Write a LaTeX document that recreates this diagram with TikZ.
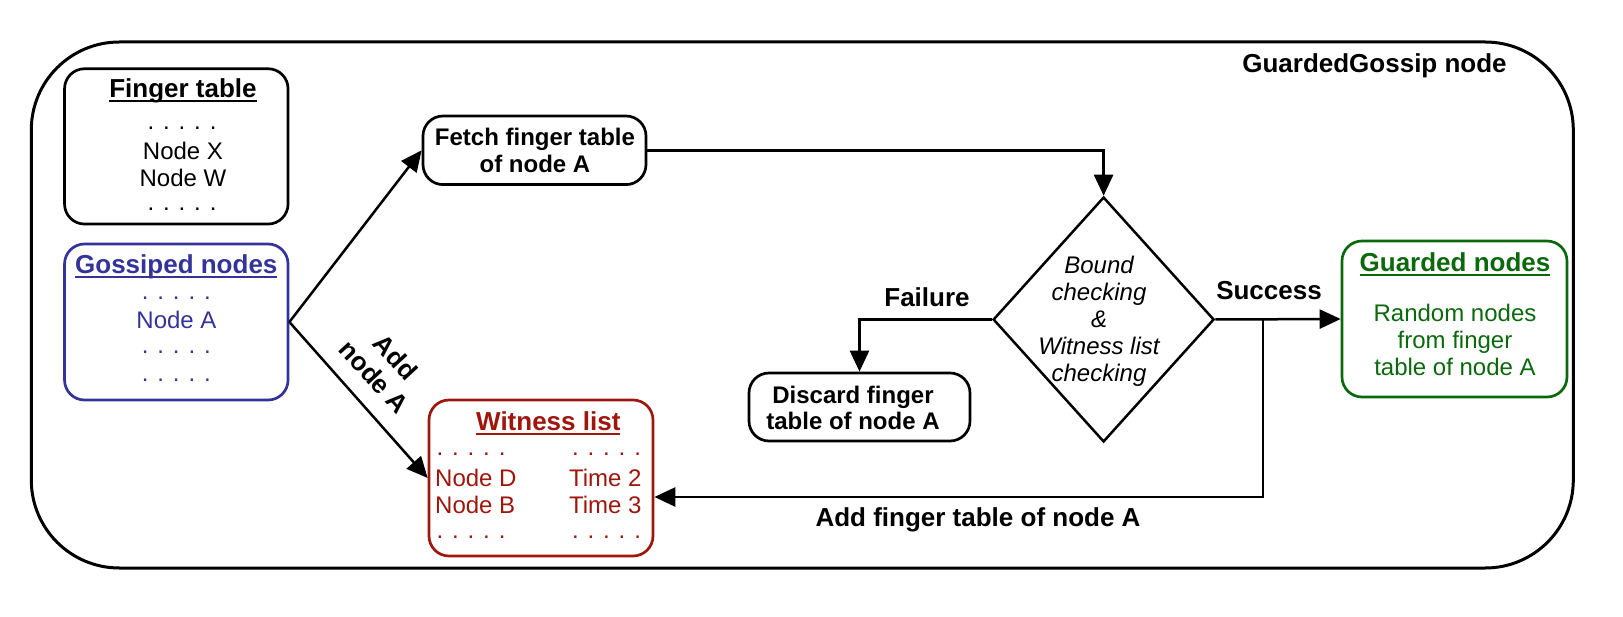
\documentclass[tikz,border=0pt]{standalone}
\usepackage{fontspec}
\setmainfont{Liberation Sans}
\usetikzlibrary{arrows.meta,shapes.geometric,calc}
\definecolor{gblue}{RGB}{51,51,153}
\definecolor{gred}{RGB}{158,22,12}
\definecolor{ggreen}{RGB}{12,104,12}
\newcommand\ulin[1]{\setbox0\hbox{#1}\rlap{\rule[-4pt]{\wd0}{2pt}}\box0}
\begin{document}
\begin{tikzpicture}[x=1pt,y=-1pt,
  fs/.style={font=\fontsize{24pt}{27pt}\selectfont},
  fb/.style={font=\fontsize{24pt}{27pt}\selectfont\bfseries},
  fl/.style={font=\fontsize{26pt}{29pt}\selectfont\bfseries},
  fi/.style={font=\fontsize{24pt}{27pt}\selectfont\itshape},
  box/.style={draw, rectangle, rounded corners=20pt, line width=2.7pt, inner sep=0pt},
  txt/.style={anchor=base, inner sep=0pt},
  conn/.style={line width=2.5pt, -{Triangle[length=21pt,width=19pt]}},
  plainline/.style={line width=2.5pt}
]
\useasboundingbox (0,0) rectangle (1623,617);
% outer frame
\node[box, rounded corners=88pt, line width=3pt, minimum width=1542pt, minimum height=526pt] (outer) at (802.3,305) {};
\node[txt, fl] (title) at (1374.5,72.5) {GuardedGossip node};

% finger table
\node[box, minimum width=223.5pt, minimum height=155.3pt] (ft) at (176.3,146.4) {};
\node[txt, fl] (ftT) at (183,98) {\ulin{Finger table}};
\node[txt, fs] (ftD1) at (182,130) {. . . . .};
\node[txt, fs] (ftX) at (183,160) {Node X};
\node[txt, fs] (ftW) at (183,187) {Node W};
\node[txt, fs] (ftD2) at (182,211) {. . . . .};

% gossiped nodes
\node[box, draw=gblue, minimum width=223.5pt, minimum height=156pt] (gos) at (176.3,322) {};
\node[txt, fl, gblue] (gosT) at (176.3,274) {\ulin{Gossiped nodes}};
\node[txt, fs, gblue] (gosD1) at (176.3,300) {. . . . .};
\node[txt, fs, gblue] (gosA) at (176.5,329) {Node A};
\node[txt, fs, gblue] (gosD2) at (176.3,354) {. . . . .};
\node[txt, fs, gblue] (gosD3) at (176.3,382) {. . . . .};

% fetch
\node[box, minimum width=223pt, minimum height=68.6pt] (fetch) at (534.5,150.3) {};
\node[txt, fb] (fetch1) at (535,146) {Fetch finger table};
\node[txt, fb] (fetch2) at (535,173) {of node A};

% diamond
\node[draw, diamond, line width=2.5pt, inner sep=0pt, minimum width=221pt, minimum height=245pt] (dia) at (1103.6,319.5) {};
\node[txt, fi] (dia1) at (1099,273.5) {Bound};
\node[txt, fi] (dia2) at (1099,300.5) {checking};
\node[txt, fi] (dia3) at (1099,327.5) {\&};
\node[txt, fi] (dia4) at (1099,354.5) {Witness list};
\node[txt, fi] (dia5) at (1099,381.5) {checking};

% discard
\node[box, minimum width=221pt, minimum height=68pt] (disc) at (859.5,407) {};
\node[txt, fb] (disc1) at (853,403.3) {Discard finger};
\node[txt, fb] (disc2) at (853,430) {table of node A};

% guarded
\node[box, draw=ggreen, minimum width=225pt, minimum height=156pt] (guard) at (1454.5,319) {};
\node[txt, fl, ggreen] (guardT) at (1455,272) {\ulin{Guarded nodes}};
\node[txt, fs, ggreen] (guard1) at (1455,322) {Random nodes};
\node[txt, fs, ggreen] (guard2) at (1455,349) {from finger};
\node[txt, fs, ggreen] (guard3) at (1455,376) {table of node A};

% witness
\node[box, draw=gred, minimum width=224pt, minimum height=156pt] (wit) at (541,478) {};
\node[txt, fl, gred] (witT) at (548.3,431) {\ulin{Witness list}};
\node[txt, fs, gred] (witD1) at (471,456) {. . . . .};
\node[txt, fs, gred] (witD2) at (606.5,456) {. . . . .};
\node[txt, fs, gred, anchor=base west] (witN1) at (435,486) {Node D};
\node[txt, fs, gred, anchor=base west] (witN2) at (435,513) {Node B};
\node[txt, fs, gred, anchor=base east] (witT1) at (641.7,486) {Time 2};
\node[txt, fs, gred, anchor=base east] (witT2) at (641.7,513) {Time 3};
\node[txt, fs, gred] (witD3) at (471,538) {. . . . .};
\node[txt, fs, gred] (witD4) at (606.5,538) {. . . . .};

% labels
\node[txt, fl] (fail) at (927,307) {Failure};
\node[txt, fl] (succ) at (1269,300) {Success};
\node[txt, fl] (addft) at (978,526) {Add finger table of node A};
\node[fl, inner sep=0pt, align=center, rotate=-47.5] (addA) at (385,367) {Add\\node A};

% connectors
\draw[conn] (gos.east) -- (fetch.west);
\draw[conn] (gos.east) -- (wit.west);
\draw[conn] (fetch.east) -| (dia.north);
\draw[conn] (dia.west) -| (disc.north);
\draw[conn] (dia.east) -- (guard.west);
\coordinate (br) at ($(dia.east)!0.38!(guard.west)$);
\draw[conn] (br) |- ([yshift=-19pt]wit.east);
\end{tikzpicture}
\end{document}
